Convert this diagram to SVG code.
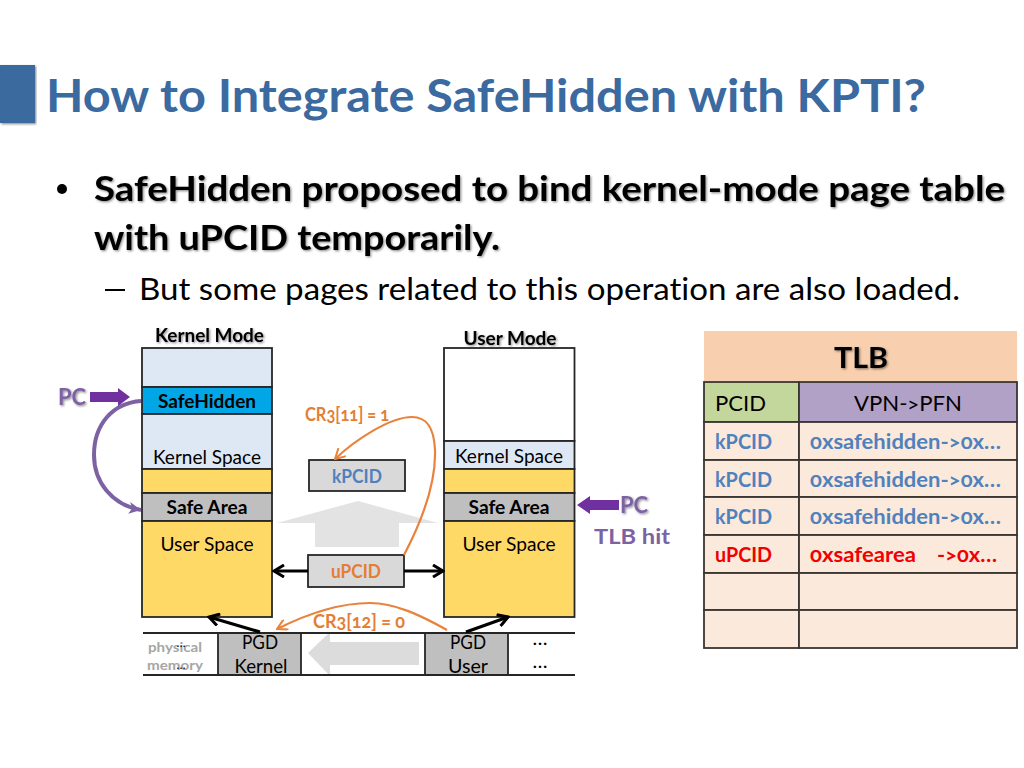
<svg xmlns="http://www.w3.org/2000/svg" width="1024" height="768" viewBox="0 0 1024 768">
<style>
text{font-family:Lato,"Open Sans","Liberation Sans",sans-serif;font-feature-settings:"onum" 1,"liga" 0;font-variant-ligatures:none;fill:#000}
.b{font-weight:700}
.c{text-anchor:middle}
.box{stroke:#262626;stroke-width:1.8}
.lb{fill:#DEE8F4}.yl{fill:#FFD966}.gr{fill:#BFBFBF}.cy{fill:#00A6E6}
.bl{fill:#4F81BD}.rd{fill:#F00000}.or{fill:#E47E35}.pu{fill:#7D62A3}
.s{font-size:18.5px}
.t{font-size:21px}
.cell{stroke:#3A3530;stroke-width:1.8;fill:#FBE9DB}
.oc{fill:none;stroke:#E9823C;stroke-width:2.2}
.ar{fill:none;stroke:#000;stroke-width:3.2}
</style>
<defs>
<filter id="sh" x="-5%" y="-20%" width="110%" height="150%"><feDropShadow dx="1.2" dy="1.2" stdDeviation="1" flood-color="#000" flood-opacity=".45"/></filter>
<marker id="oa" viewBox="0 0 12 12" refX="11" refY="6" markerWidth="12" markerHeight="12" markerUnits="userSpaceOnUse" orient="auto"><path d="M1 .5L11 6L1 11.5" fill="none" stroke="#E9823C" stroke-width="2"/></marker>
<marker id="ba" viewBox="0 0 14 14" refX="12" refY="7" markerWidth="14" markerHeight="14" markerUnits="userSpaceOnUse" orient="auto"><path d="M2 1L12 7L2 13" fill="none" stroke="#000" stroke-width="3"/></marker>
<marker id="pa" viewBox="0 0 14 14" refX="13" refY="7" markerWidth="14" markerHeight="14" markerUnits="userSpaceOnUse" orient="auto"><path d="M1 1L13 7L1 13L4 7Z" fill="#7D62A3"/></marker>
</defs>
<rect width="1024" height="768" fill="#fff"/>

<g id="title">
<rect x="0" y="65" width="35" height="58" fill="#3A6A9F" filter="url(#sh)"/>
<text x="46" y="112" font-size="46" class="b" style="fill:#3A6A9F" textLength="880" lengthAdjust="spacingAndGlyphs">How to Integrate SafeHidden with KPTI?</text>
</g>

<g id="bullets">
<circle cx="62" cy="189" r="5"/>
<text x="94" y="201" font-size="35" class="b" filter="url(#sh)" textLength="911" lengthAdjust="spacingAndGlyphs">SafeHidden proposed to bind kernel-mode page table</text>
<text x="94" y="250" font-size="35" class="b" filter="url(#sh)" textLength="406" lengthAdjust="spacingAndGlyphs">with uPCID temporarily.</text>
<rect x="105" y="289" width="20" height="2"/>
<text x="139" y="300" font-size="31" textLength="821" lengthAdjust="spacingAndGlyphs">But some pages related to this operation are also loaded.</text>
</g>

<g id="kernel-mode">
<text x="209.500" y="342" class="b c" font-size="18" filter="url(#sh)" textLength="109" lengthAdjust="spacingAndGlyphs">Kernel Mode</text>
<rect x="142" y="348" width="130" height="39" class="box lb"/>
<rect x="142" y="387" width="130" height="27" class="box cy"/>
<text x="207" y="408" class="b c s" textLength="98" lengthAdjust="spacingAndGlyphs">SafeHidden</text>
<rect x="142" y="414" width="130" height="55" class="box lb"/>
<text x="207" y="464" class="c s" textLength="108" lengthAdjust="spacingAndGlyphs">Kernel Space</text>
<rect x="142" y="469" width="130" height="24" class="box yl"/>
<rect x="142" y="493" width="130" height="28" class="box gr"/>
<text x="207" y="514" class="b c s" textLength="81" lengthAdjust="spacingAndGlyphs">Safe Area</text>
<rect x="142" y="521" width="130" height="96" class="box yl"/>
<text x="207" y="551" class="c s" textLength="93" lengthAdjust="spacingAndGlyphs">User Space</text>
</g>

<g id="user-mode">
<text x="510" y="345" class="b c" font-size="18" filter="url(#sh)" textLength="93" lengthAdjust="spacingAndGlyphs">User Mode</text>
<rect x="444" y="348" width="130.500" height="93" class="box" fill="#fff"/>
<rect x="444" y="441" width="130.500" height="28" class="box lb"/>
<text x="509" y="463" class="c s" textLength="108" lengthAdjust="spacingAndGlyphs">Kernel Space</text>
<rect x="444" y="469" width="130.500" height="24" class="box yl"/>
<rect x="444" y="493" width="130.500" height="28" class="box gr"/>
<text x="509" y="514" class="b c s" textLength="81" lengthAdjust="spacingAndGlyphs">Safe Area</text>
<rect x="444" y="521" width="130.500" height="96" class="box yl"/>
<text x="509" y="551" class="c s" textLength="93" lengthAdjust="spacingAndGlyphs">User Space</text>
</g>

<g id="grey-arrows">
<path d="M358 501L438 523H399V547H315V523H277Z" fill="#E3E3E3"/>
<path d="M308 653L330 632V642H419V665H330V676Z" fill="#DCDCDC"/>
</g>

<g id="kpcid">
<rect x="309" y="460" width="96" height="31" class="box" fill="#D9D9D9"/>
<text x="357" y="483" class="b c s bl" textLength="50" lengthAdjust="spacingAndGlyphs">kPCID</text>
</g>
<g id="upcid">
<rect x="308" y="555" width="96" height="32" class="box" fill="#D9D9D9"/>
<text x="356" y="578" class="b c s or" textLength="50" lengthAdjust="spacingAndGlyphs">uPCID</text>
</g>

<g id="page-row">
<rect x="218" y="633" width="83" height="42" fill="#BFBFBF"/>
<rect x="425" y="633" width="83" height="42" fill="#BFBFBF"/>
<path d="M143 633H575M143 675H575M218 633V675M301 633V675M425 633V675M508 633V675" stroke="#262626" stroke-width="1.800" fill="none"/>
<text x="175" y="652" class="b c" font-size="14" style="fill:#A6A6A6" textLength="54" lengthAdjust="spacingAndGlyphs">physical</text>
<text x="175" y="670" class="b c" font-size="14" style="fill:#A6A6A6" textLength="56" lengthAdjust="spacingAndGlyphs">memory</text>
<text x="181" y="647" class="c" font-size="12">…</text>
<text x="181" y="669" class="c" font-size="12">…</text>
<text x="260" y="649" class="c s" textLength="36" lengthAdjust="spacingAndGlyphs">PGD</text>
<text x="261" y="673" class="c s" textLength="53" lengthAdjust="spacingAndGlyphs">Kernel</text>
<text x="468" y="649" class="c s" textLength="36" lengthAdjust="spacingAndGlyphs">PGD</text>
<text x="468" y="673" class="c s" textLength="40" lengthAdjust="spacingAndGlyphs">User</text>
<text x="540" y="645" class="c" font-size="20" textLength="16">…</text>
<text x="540" y="668" class="c" font-size="20" textLength="16">…</text>
</g>

<g id="connectors">
<path class="ar" d="M308 571H274" marker-end="url(#ba)"/>
<path class="ar" d="M404 571H443" marker-end="url(#ba)"/>
<path class="ar" d="M260 632L209 617" marker-end="url(#ba)"/>
<path class="ar" d="M466 632L508 617" marker-end="url(#ba)"/>
<path class="oc" d="M404 555C425 515 436 480 435 450C434 425 425 417 412 417C390 417 355 440 335 459" marker-end="url(#oa)"/>
<path class="oc" d="M447 630C420 615 395 603 370 603C340 603 305 615 277 629" marker-end="url(#oa)"/>
<path d="M141 401C112 403 94 425 94 455C94 482 112 505 141 510" fill="none" stroke="#7D62A3" stroke-width="4" marker-end="url(#pa)"/>
</g>

<g id="pc-left">
<text x="58" y="405" class="b pu" font-size="22" filter="url(#sh)" textLength="28" lengthAdjust="spacingAndGlyphs">PC</text>
<path d="M90 392H118V388L130 397L118 406V402H90Z" fill="#7030A0"/>
</g>
<g id="pc-right">
<path d="M619 500H590V496L577 505L590 514V510H619Z" fill="#7030A0"/>
<text x="620" y="513" class="b pu" font-size="22" filter="url(#sh)" textLength="28" lengthAdjust="spacingAndGlyphs">PC</text>
<text x="594" y="544" class="b pu" font-size="21" textLength="76" lengthAdjust="spacingAndGlyphs">TLB hit</text>
</g>
<g id="cr3-labels">
<text x="305" y="421" class="b or" font-size="18" textLength="84" lengthAdjust="spacingAndGlyphs">CR3[11] = 1</text>
<text x="313" y="628" class="b or" font-size="18" textLength="92" lengthAdjust="spacingAndGlyphs">CR3[12] = 0</text>
</g>

<g id="tlb">
<rect x="704" y="331" width="313" height="50" fill="#F8D0B0"/>
<text x="861" y="368" class="b c" font-size="29" filter="url(#sh)" textLength="54" lengthAdjust="spacingAndGlyphs">TLB</text>
<rect x="704" y="382" width="95" height="40" class="cell" style="fill:#C3D69B"/>
<rect x="799" y="382" width="218" height="40" class="cell" style="fill:#B2A1C7"/>
<rect x="704" y="422" width="95" height="38" class="cell"/>
<rect x="799" y="422" width="218" height="38" class="cell"/>
<rect x="704" y="460" width="95" height="37" class="cell"/>
<rect x="799" y="460" width="218" height="37" class="cell"/>
<rect x="704" y="497" width="95" height="38" class="cell"/>
<rect x="799" y="497" width="218" height="38" class="cell"/>
<rect x="704" y="535" width="95" height="38" class="cell"/>
<rect x="799" y="535" width="218" height="38" class="cell"/>
<rect x="704" y="573" width="95" height="37" class="cell"/>
<rect x="799" y="573" width="218" height="37" class="cell"/>
<rect x="704" y="610" width="95" height="38" class="cell"/>
<rect x="799" y="610" width="218" height="38" class="cell"/>
<text x="715" y="411" class="t" textLength="51" lengthAdjust="spacingAndGlyphs">PCID</text>
<text x="908" y="411" class="t c" textLength="108" lengthAdjust="spacingAndGlyphs">VPN-&gt;PFN</text>
<text x="715" y="449" class="b t bl" textLength="57" lengthAdjust="spacingAndGlyphs">kPCID</text>
<text x="810" y="449" class="b t bl" textLength="191" lengthAdjust="spacingAndGlyphs">0xsafehidden-&gt;0x…</text>
<text x="715" y="487" class="b t bl" textLength="57" lengthAdjust="spacingAndGlyphs">kPCID</text>
<text x="810" y="487" class="b t bl" textLength="191" lengthAdjust="spacingAndGlyphs">0xsafehidden-&gt;0x…</text>
<text x="715" y="524" class="b t bl" textLength="57" lengthAdjust="spacingAndGlyphs">kPCID</text>
<text x="810" y="524" class="b t bl" textLength="191" lengthAdjust="spacingAndGlyphs">0xsafehidden-&gt;0x…</text>
<text x="715" y="562" class="b t rd" textLength="57" lengthAdjust="spacingAndGlyphs">uPCID</text>
<text x="810" y="562" class="b t rd" textLength="106" lengthAdjust="spacingAndGlyphs">0xsafearea</text>
<text x="937" y="562" class="b t rd" textLength="60" lengthAdjust="spacingAndGlyphs">-&gt;0x…</text>
</g>
</svg>
